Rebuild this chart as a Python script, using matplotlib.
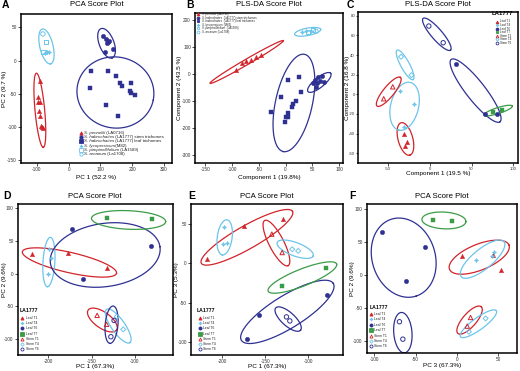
import numpy as np
import matplotlib
matplotlib.use("Agg")
import matplotlib.pyplot as plt
from matplotlib.lines import Line2D

plt.rcParams['font.family'] = ['Liberation Sans', 'DejaVu Sans']
plt.rcParams['axes.unicode_minus'] = False

# ---------------- data: panel A (PCA, species) ----------------
A_groups = ["S. pennellii (LA0716)", "S. habrochaites (LA1777) stem trichomes",
            "S. habrochaites (LA1777) leaf trichomes", "S. lycopersicum (M82)",
            "S. pimpinellifolium (LA1589)", "S. arcanum (La1708)"]
A_pennellii_x = [-91, -96, -96, -90, -93, -91, -88, -82, -85]
A_pennellii_y = [-30, -55, -62, -63, -76, -83, -98, -102, -100]
A_stem_x = [109, 116, 124, 119, 127, 140, 114]
A_stem_y = [37.5, 32, 28.5, 26, 30, 17.5, 12.5]
A_leaf_x = [70.5, 124, 150, 160.6, 169, 195, 67, 192, 197, 210, 116, 155]
A_leaf_y = [-15.5, -15.5, -23, -33, -37.5, -34, -41.5, -46.5, -49, -51.5, -67.5, -83]
A_lyco_x = [-73, -67, -62]
A_lyco_y = [12, 12.5, 13.5]
A_pimp_x = [-71, -79]
A_pimp_y = [28, 13]
A_arc_x = [-81]
A_arc_y = [40]
# ellipses: (tip1, tip2, minor/major ratio)
A_ellipses = {
    "S. pennellii (LA0716)": ((-101.6, -19), (-79.8, -130.5), 0.13),
    "S. habrochaites (LA1777) stem trichomes": ((101.6, 48), (136.8, 4), 0.47),
    "S. habrochaites (LA1777) leaf trichomes": ((28, -36.5), (266, -59.5), 0.92),
    "S. lycopersicum (M82)": ((-82.9, 47.5), (-57, -5), 0.37),
}

# ---------------- data: panel B (PLS-DA, species) ----------------
B_pennellii_x = [-93.3, -82, -74.6, -65.3, -54.7, -46.6]
B_pennellii_y = [14.8, 39.5, 47, 52, 64, 70]
B_stem_x = [54.7, 60.9, 68.4, 51, 59, 64, 71.5, 56]
B_stem_y = [-22, -12.3, -6.2, -32, -32, -24.7, -28.4, -47]
B_leaf_x = [4.4, 24.9, -8.7, 28, 19.3, 13, 12.4, -28, 5, 4.4, 1.2, -1.2]
B_leaf_y = [-23.5, -9.9, -85, -68, -98.8, -111, -123.5, -142, -145.7, -158, -160, -179]
B_lyco_x = [31, 37.3, 46.6]
B_lyco_y = [154, 159, 160.5]
B_pimp_x = [41.7, 51.6]
B_pimp_y = [155.6, 163]
B_arc_x = [56.6]
B_arc_y = [158]
B_ellipses = {
    "S. pennellii (LA0716)": ((-141, -34.6), (-4.4, 123.5), 0.065),
    "S. habrochaites (LA1777) stem trichomes": ((41.7, -65.4), (84, 2.5), 0.34),
    "S. habrochaites (LA1777) leaf trichomes": ((35.4, 72.8), (-4.4, -287.6), 0.37),
    "S. lycopersicum (M82)": ((16.8, 147), (65.3, 165.4), 0.28),
}

# ---------------- data: LA1777 panels C-F ----------------
T_groups = ["Leaf T1", "Leaf T4", "Leaf T6", "Leaf T7", "Stem T1", "Stem T4", "Stem T6"]

C_points = {
    "Leaf T1": ([-31.2, -27.2, -30], [-40, -48.4, -52.5]),
    "Leaf T4": ([-35.2, -18.4, -30.4], [3.6, -10.4, -33.8]),
    "Leaf T6": ([31.6, 66, 81], [30.4, -20.2, -20.2]),
    "Leaf T7": ([75.6, 86], [-18.2, -16]),
    "Stem T1": ([-55.2, -44.4], [-4.6, 7.6]),
    "Stem T4": ([-34.4, -22], [38.2, 19.5]),
    "Stem T6": ([-1.2, 16], [69.5, 52.5]),
}
C_ellipses = {
    "Leaf T1": ((-34.4, -29), (-24, -62), 0.44),
    "Leaf T4": ((-23.2, 12), (-37.2, -36.5), 0.57),
    "Leaf T6": ((25.6, 35.5), (84, -28), 0.24),
    "Leaf T7": ((64.8, -21.2), (98.8, -12), 0.2),
    "Stem T1": ((-63.2, -12), (-35.2, 17.2), 0.29),
    "Stem T4": ((-39.2, 45), (-20, 15), 0.26),
    "Stem T6": ((-8, 77.3), (24.8, 45), 0.26),
}

D_points = {
    "Leaf T1": ([-218, -176.9, -131.9], [29.9, 32, 7.9]),
    "Leaf T4": ([-198.8, -196.9, -200], [37, 23.3, -1.3]),
    "Leaf T6": ([-171.9, -81.5, -159.6], [67.8, 42.2, -9]),
    "Leaf T7": ([-132.7, -80.8], [85.7, 83.6]),
    "Stem T1": ([-143.5, -132.7], [-64.2, -78]),
    "Stem T4": ([-121, -113.5], [-66.2, -85.7]),
    "Stem T6": ([-127.7, -124], [-97, -72]),
}
D_ellipses = {
    "Leaf T1": ((-229.6, 33.5), (-121.2, 0.3), 0.21),
    "Leaf T4": ((-197.3, 55.5), (-200.8, -20.2), 0.24),
    "Leaf T6": ((-197.3, 15.6), (-71.2, 41.2), 0.57),
    "Leaf T7": ((-150, 84.7), (-64.6, 79.5), 0.25),
    "Stem T1": ((-153.8, -56), (-121.2, -86.7), 0.46),
    "Stem T4": ((-132.7, -55), (-105.8, -106), 0.33),
    "Stem T6": ((-125, -49.9), (-128.8, -107.2), 0.34),
}

E_points = {
    "Leaf T1": ([-217.4, -174.8, -129.8], [5.9, 46.6, 56.4]),
    "Leaf T4": ([-197.7, -198.8, -194.2], [45.3, 24.2, 25.4]),
    "Leaf T6": ([-157, -170.5, -78.7], [-64.8, -95.3, -40.7]),
    "Leaf T7": ([-130.6, -79.5], [-28.8, -5.5]),
    "Stem T1": ([-142.2, -130.2], [36.9, 13.6]),
    "Stem T4": ([-118.6, -111.6], [17.8, 15.7]),
    "Stem T6": ([-125.2, -121.3], [-67.8, -72.9]),
}
E_ellipses = {
    "Leaf T1": ((-224, 0), (-118.2, 65.7), 0.22),
    "Leaf T4": ((-194.2, 55), (-199.6, 10.6), 0.42),
    "Leaf T6": ((-177.5, -97.5), (-70.9, -25.4), 0.3),
    "Leaf T7": ((-146.5, -35.2), (-67, -0.8), 0.23),
    "Stem T1": ((-150.4, 54.2), (-123.3, -3), 0.29),
    "Stem T4": ((-136, 26.3), (-94.2, 9.3), 0.35),
    "Stem T6": ((-137.6, -56.4), (-108.9, -84.7), 0.4),
}

F_points = {
    "Leaf T1": ([6, 43.5, 53.6], [28.9, 30.5, 7.6]),
    "Leaf T4": ([23.4, 44.4, 43], [22.8, 35.5, 29]),
    "Leaf T6": ([-90.7, -39.1, -61.3], [66, 43.1, -8.6]),
    "Leaf T7": ([-28.6, -5.6], [83.8, 82.2]),
    "Stem T1": ([16.5, 12.5], [-64.5, -77.7]),
    "Stem T4": ([34.7, 14.5], [-66, -86.3]),
    "Stem T6": ([-69.4, -65.3], [-71, -97.5]),
}
F_ellipses = {
    "Leaf T1": ((-8.9, 8.6), (62.9, 45.7), 0.4),
    "Leaf T4": ((5.2, -2.5), (56.9, 50.8), 0.36),
    "Leaf T6": ((-79.4, 84.8), (-49.2, -32), 0.78),
    "Leaf T7": ((-42.3, 84.8), (10.9, 81.2), 0.38),
    "Stem T1": ((1.2, -88.8), (29.4, -48.2), 0.38),
    "Stem T4": ((4.4, -93.9), (47.6, -54.3), 0.27),
    "Stem T6": ((-67.3, -56.9), (-63.3, -118.3), 0.45),
}

# ---------------- styles ----------------
RED = '#d2232a'
NAVY = '#2e3192'
LBLUE = '#6cc4ea'
GREEN = '#3b9c48'
STAR4 = (4, 1, 0)

A_styles = {
    A_groups[0]: ('^', RED, True),
    A_groups[1]: ('o', NAVY, True),
    A_groups[2]: ('s', NAVY, True),
    A_groups[3]: (STAR4, LBLUE, True),
    A_groups[4]: ('s', LBLUE, False),
    A_groups[5]: ('o', LBLUE, False),
}
T_styles = {
    "Leaf T1": ('^', RED, True),
    "Leaf T4": (STAR4, LBLUE, True),
    "Leaf T6": ('o', NAVY, True),
    "Leaf T7": ('s', GREEN, True),
    "Stem T1": ('^', RED, False),
    "Stem T4": ('D', LBLUE, False),
    "Stem T6": ('o', NAVY, False),
}

A_points = {
    A_groups[0]: (A_pennellii_x, A_pennellii_y),
    A_groups[1]: (A_stem_x, A_stem_y),
    A_groups[2]: (A_leaf_x, A_leaf_y),
    A_groups[3]: (A_lyco_x, A_lyco_y),
    A_groups[4]: (A_pimp_x, A_pimp_y),
    A_groups[5]: (A_arc_x, A_arc_y),
}
B_points = {
    A_groups[0]: (B_pennellii_x, B_pennellii_y),
    A_groups[1]: (B_stem_x, B_stem_y),
    A_groups[2]: (B_leaf_x, B_leaf_y),
    A_groups[3]: (B_lyco_x, B_lyco_y),
    A_groups[4]: (B_pimp_x, B_pimp_y),
    A_groups[5]: (B_arc_x, B_arc_y),
}

W, H = 520, 371
fig = plt.figure(figsize=(W / 100, H / 100), dpi=100)


def fx(px):
    return px / W


def fy(py):
    return 1 - py / H


def make_ax(l, r, t, b):
    return fig.add_axes([l / W, 1 - b / H, (r - l) / W, (b - t) / H])


def draw_ellipse(ax, p1, p2, ratio, color):
    p1 = np.asarray(p1, float)
    p2 = np.asarray(p2, float)
    c = (p1 + p2) / 2
    T = ax.transData
    cd = T.transform(c)
    ad = T.transform(p2) - cd
    bd = ratio * np.array([-ad[1], ad[0]])
    a = p2 - c
    b = T.inverted().transform(cd + bd) - c
    t = np.linspace(0, 2 * np.pi, 240)
    pts = c[None, :] + np.cos(t)[:, None] * a[None, :] + np.sin(t)[:, None] * b[None, :]
    ax.plot(pts[:, 0], pts[:, 1], color=color, lw=0.9, zorder=2)


def style_ax(ax, box, xlim, ylim, xticks, yticks, title, title_y, xlabel, xlab_y, ylabel, ylab_x,
             tick_fs=3.4):
    l, r, t, b = box
    ax.set_xlim(*xlim)
    ax.set_ylim(*ylim)
    ax.set_xticks(xticks)
    ax.set_yticks(yticks)
    for s in ax.spines.values():
        s.set_linewidth(1.1)
    ax.tick_params(length=2.0, width=0.6, labelsize=tick_fs, pad=1, colors='#333333')
    fig.text(fx((l + r) / 2), fy(title_y), title, fontsize=5.6, ha='center', va='center')
    fig.text(fx((l + r) / 2), fy(xlab_y), xlabel, fontsize=4.6, ha='center', va='center')
    fig.text(fx(ylab_x), fy((t + b) / 2), ylabel, fontsize=4.6, ha='center', va='center', rotation=90)


def draw_panel(ax, points, ellipses, styles, order):
    for g in order:
        if g in ellipses:
            p1, p2, r = ellipses[g]
            draw_ellipse(ax, p1, p2, r, styles[g][1])
    for g in order:
        m, col, filled = styles[g]
        x, y = points[g]
        ms = 10 if m != 'D' else 6.5
        if filled:
            ax.scatter(x, y, marker=m, s=ms, c=col, edgecolors=col, linewidths=0.3, zorder=3)
        else:
            ax.scatter(x, y, marker=m, s=ms, facecolors='none', edgecolors=col, linewidths=0.7, zorder=3)


def manual_legend(ax, order, styles, mx, tx, y0, dy, fs, ms, italic_split=False,
                  title=None, title_xy=None, tfs=4.0):
    if title is not None:
        fig.text(fx(title_xy[0]), fy(title_xy[1]), title, fontsize=tfs, fontweight='bold',
                 ha='left', va='center')
    for i, g in enumerate(order):
        m, col, filled = styles[g]
        y = y0 + i * dy
        msz = ms if m != 'D' else ms * 0.8
        fig.add_artist(Line2D([fx(mx)], [fy(y)], transform=fig.transFigure, marker=m,
                              markersize=msz, color=col, mfc=col if filled else 'none',
                              mec=col, mew=0.6, linestyle='none'))
        if italic_split:
            sp, rest = g.split(' (', 1)
            t1 = fig.text(fx(tx), fy(y), sp, fontsize=fs, style='italic', ha='left',
                          va='center', color='#222222')
            ax.annotate(' (' + rest, xy=(1, 0.5), xycoords=t1, fontsize=fs, ha='left',
                        va='center', color='#222222', annotation_clip=False)
        else:
            fig.text(fx(tx), fy(y), g, fontsize=fs, ha='left', va='center', color='#222222')


# Panel A
boxA = (21, 172, 14, 163)
axA = make_ax(*boxA)
style_ax(axA, boxA, (-150, 325), (-154, 70), [-100, 0, 100, 200, 300], [-150, -100, -50, 0, 50],
         'PCA Score Plot', 4.5, 'PC 1 (52.2 %)', 177, 'PC 2 (9.7 %)', 5)
draw_panel(axA, A_points, A_ellipses, A_styles, A_groups)
manual_legend(axA, A_groups, A_styles, 80.5, 83.5, 132.5, 4.35, 3.2, 2.4, italic_split=True)

# Panel B
boxB = (195, 343, 13, 163)
axB = make_ax(*boxB)
style_ax(axB, boxB, (-169, 107), (-330, 226), [-150, -100, -50, 0, 50, 100],
         [-300, -200, -100, 0, 100, 200],
         'PLS-DA Score Plot', 5, 'Component 1 (19.8%)', 177, 'Component 2 (43.5 %)', 180)
draw_panel(axB, B_points, B_ellipses, A_styles, A_groups)
manual_legend(axB, A_groups, A_styles, 198, 202.5, 14.2, 3.5, 2.1, 2.0, italic_split=True)

# Panel C
boxC = (358, 518, 12.3, 163)
axC = make_ax(*boxC)
style_ax(axC, boxC, (-86, 105.6), (-70, 83.5), [-50, 0, 50, 100], [-60, -40, -20, 0, 20, 40, 60, 80],
         'PLS-DA Score Plot', 5, 'Component 1 (19.5 %)', 173.3, 'Component 2 (16.8 %)', 347.3,
         tick_fs=3.1)
axC.tick_params(axis='y', pad=0.6, length=1.6)
draw_panel(axC, C_points, C_ellipses, T_styles, T_groups)
manual_legend(axC, T_groups, T_styles, 496.5, 499.5, 21.5, 3.55, 2.2, 2.0,
              title='LA1777', title_xy=(491.5, 13.5), tfs=4.3)

# Panel D
boxD = (17.7, 172.7, 204, 355)
axD = make_ax(*boxD)
style_ax(axD, boxD, (-235, -56.5), (-125, 106.6), [-200, -150, -100], [-100, -50, 0, 50, 100],
         'PCA Score Plot', 196, 'PC 1 (67.3%)', 366.8, 'PC 2 (9.6%)', 5)
draw_panel(axD, D_points, D_ellipses, T_styles, T_groups)
manual_legend(axD, T_groups, T_styles, 22, 25.5, 318, 5.2, 2.4, 2.2,
              title='LA1777', title_xy=(19.5, 311), tfs=3.7)

# Panel E
boxE = (191, 343, 204, 355)
axE = make_ax(*boxE)
style_ax(axE, boxE, (-236, -59.6), (-116, 75), [-200, -150, -100], [-100, -50, 0, 50],
         'PCA Score Plot', 196.5, 'PC 1 (67.3%)', 366.8, 'PC 3 (5.3%)', 176.7)
draw_panel(axE, E_points, E_ellipses, T_styles, T_groups)
manual_legend(axE, T_groups, T_styles, 199.5, 203, 318, 5.2, 2.4, 2.2,
              title='LA1777', title_xy=(196.5, 311), tfs=3.7)

# Panel F
boxF = (366.7, 517.3, 204, 353.3)
axF = make_ax(*boxF)
style_ax(axF, boxF, (-109, 73), (-119, 108), [-100, -50, 0, 50], [-100, -50, 0, 50, 100],
         'PCA Score Plot', 196, 'PC 3 (67.3%)', 366, 'PC 2 (9.6%)', 352.3)
draw_panel(axF, F_points, F_ellipses, T_styles, T_groups)
manual_legend(axF, T_groups, T_styles, 371, 374.5, 314, 5.4, 2.4, 2.2,
              title='LA1777', title_xy=(369.5, 307.5), tfs=3.7)

# panel letters
for letter, (px, py) in zip("ABCDEF", [(2, 5), (186, 5), (347, 5), (3, 196), (188, 196), (349, 196)]):
    fig.text(fx(px), fy(py), letter, fontsize=7.5, fontweight='bold', va='center', ha='left')

fig.savefig('out.png', dpi=100)
